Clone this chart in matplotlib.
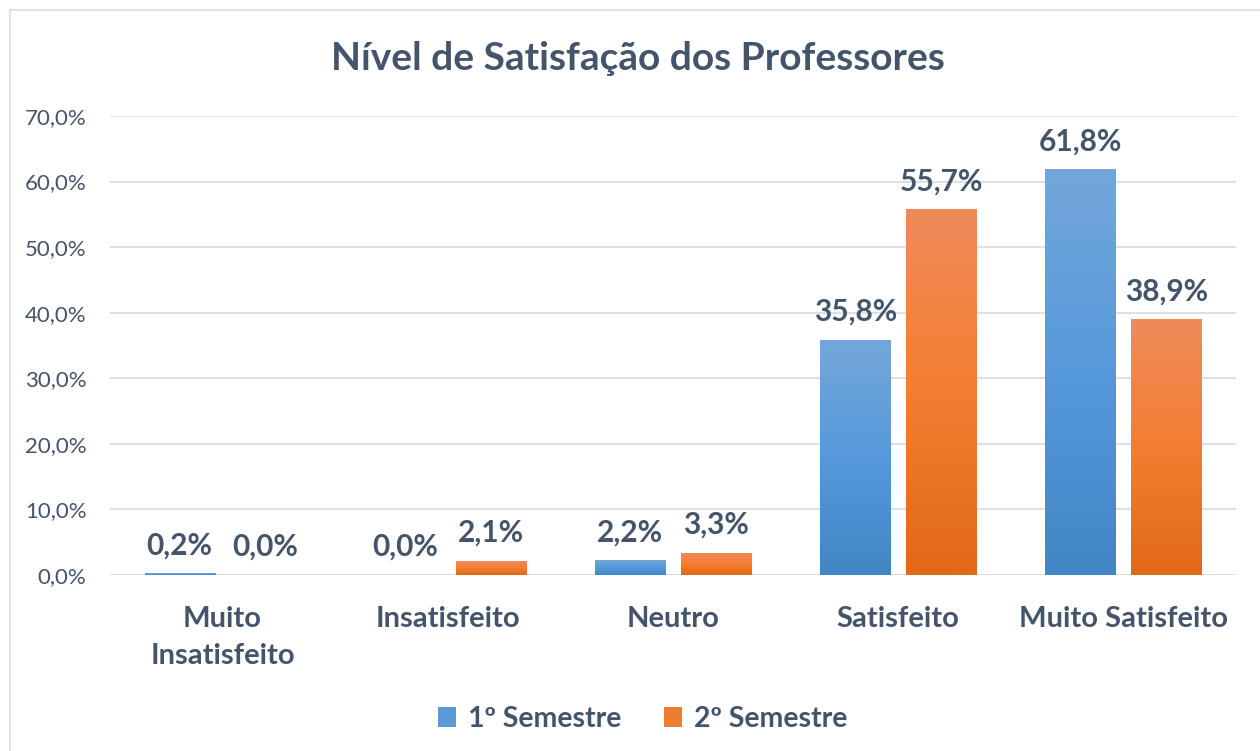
import numpy as np
import matplotlib.pyplot as plt
from matplotlib.colors import LinearSegmentedColormap
from matplotlib.patches import Rectangle

# data
categories = ['Muito\nInsatisfeito', 'Insatisfeito', 'Neutro', 'Satisfeito', 'Muito Satisfeito']
sem1 = [0.2, 0.0, 2.2, 35.8, 61.8]
sem2 = [0.0, 2.1, 3.3, 55.7, 38.9]
series_names = ['1º Semestre', '2º Semestre']
yticks = [0, 10, 20, 30, 40, 50, 60, 70]

text_col = '#44546A'
grid_col = '#DDE1E7'
blue_cmap = LinearSegmentedColormap.from_list('b', ['#4286C6', '#5699DA', '#73A7DA'])
orange_cmap = LinearSegmentedColormap.from_list('o', ['#E16818', '#F47E30', '#EF8B5A'])

plt.rcParams['font.family'] = ['Lato', 'DejaVu Sans']

fig = plt.figure(figsize=(12.6, 7.51), dpi=100)
fig.patches.append(Rectangle((10 / 1260, -0.1), 1.2, 1 - 10 / 751 + 0.1,
                             transform=fig.transFigure, fill=False,
                             edgecolor='#D9DDE3', linewidth=1.2))
ax = fig.add_axes([110 / 1260, 1 - 575 / 751, 1126 / 1260, 459 / 751])

x = np.arange(len(categories))
w = 0.311
off = 0.191
b1 = ax.bar(x - off, sem1, w, color='#5B9BD5', label=series_names[0], zorder=2)
b2 = ax.bar(x + off, sem2, w, color='#ED7D31', label=series_names[1], zorder=2)

ax.set_xlim(-0.5, len(categories) - 0.5)
ax.set_ylim(0, 70)

# vertical gradient inside each bar
grad = np.linspace(0, 1, 256).reshape(-1, 1)
for bars, cmap in [(b1, blue_cmap), (b2, orange_cmap)]:
    for p in bars:
        h = p.get_height()
        if h <= 0:
            continue
        x0 = p.get_x()
        ax.imshow(grad, cmap=cmap, origin='lower', aspect='auto',
                  extent=[x0, x0 + p.get_width(), 0, h], zorder=3,
                  interpolation='bilinear')
        p.set_facecolor('none')

for bars, vals in [(b1, sem1), (b2, sem2)]:
    for p, v in zip(bars, vals):
        ax.annotate(f"{v:.1f}%".replace('.', ','),
                    xy=(p.get_x() + p.get_width() / 2, v),
                    xytext=(0, 14), textcoords='offset points',
                    ha='center', va='baseline', fontsize=21.5,
                    fontweight='bold', color=text_col, zorder=4)

ax.set_yticks(yticks)
ax.set_yticklabels([f"{t:.1f}%".replace('.', ',') for t in yticks],
                   fontsize=16, color=text_col)
ax.set_xticks(x)
ax.set_xticklabels(categories, fontsize=21, fontweight='bold',
                   color=text_col, linespacing=1.55)
ax.tick_params(axis='both', length=0)
ax.tick_params(axis='y', pad=17)
ax.tick_params(axis='x', pad=22)
ax.grid(axis='y', color=grid_col, linewidth=1.5, zorder=0)
ax.set_axisbelow(True)
for s in ax.spines.values():
    s.set_visible(False)

fig.text(0.506, 1 - 58 / 751, 'Nível de Satisfação dos Professores',
         ha='center', va='center', fontsize=28, fontweight='bold', color=text_col)

leg = fig.legend(handles=[b1, b2], loc='center', bbox_to_anchor=(0.51, 1 - 719 / 751),
                 ncol=2, frameon=False, fontsize=20.5, handlelength=0.65,
                 handleheight=0.65, handletextpad=0.4, columnspacing=1.5)
for t in leg.get_texts():
    t.set_color(text_col)
    t.set_fontweight('bold')
leg.legend_handles[0].set_facecolor('#5B9BD5')
leg.legend_handles[1].set_facecolor('#ED7D31')

fig.savefig('out.png', dpi=100)
